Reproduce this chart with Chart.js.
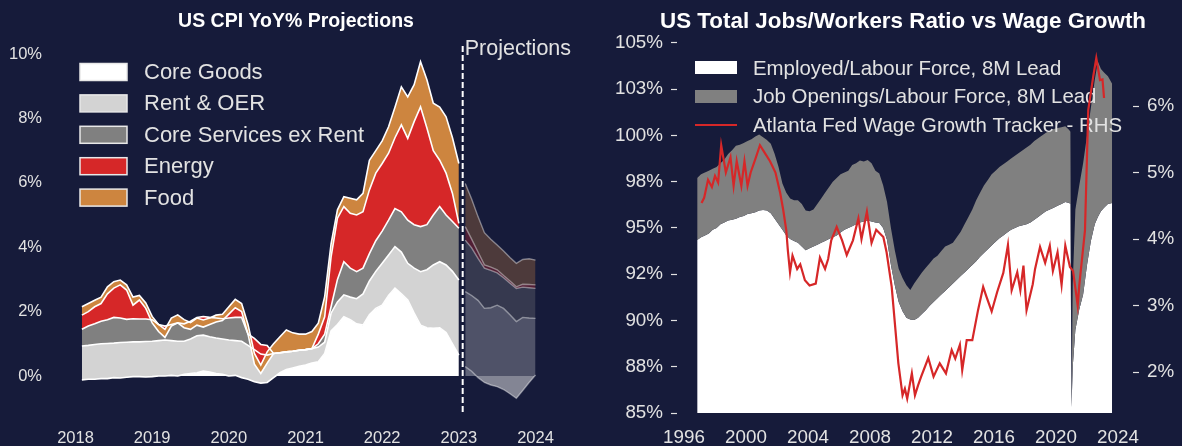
<!DOCTYPE html>
<html>
<head>
<meta charset="utf-8">
<script src="https://cdn.jsdelivr.net/npm/chart.js@4.4.0/dist/chart.umd.min.js"></script>
<style>
  html, body { margin: 0; padding: 0; background: #161b3a; }
  #wrap { position: relative; width: 1182px; height: 446px; background: #161b3a; overflow: hidden; }
  #cpi { position: absolute; left: 0; top: 0; }
  #jobs { position: absolute; left: 590px; top: 0; }
</style>
</head>
<body>
<div id="wrap">
  <canvas id="cpi" width="590" height="446"></canvas>
  <canvas id="jobs" width="592" height="446"></canvas>
</div>
<script>
const FONT = '"Liberation Sans", Arial, sans-serif';
const TXT = "#e2e2e2";

// ---- left chart: CPI YoY contributions, monthly Feb 2018 .. Jan 2023 ----
const cpiLayerNames = ["Core Goods", "Rent & OER", "Core Services ex Rent", "Energy", "Food"];
const cpiColors = ["#ffffff", "#d3d3d3", "#808080", "#d62728", "#cd853f"];
const projColors = ["rgba(255,255,255,0.32)", "rgba(211,211,211,0.3)", "rgba(128,128,128,0.3)",
  "rgba(214,39,40,0.3)", "rgba(205,133,63,0.3)"];

const coreGoods = [-0.12, -0.10, -0.10, -0.08, -0.08, -0.05, -0.06, -0.04, -0.02, -0.02,
  -0.03, -0.02, 0.00, 0.00, 0.02, 0.00, 0.05, 0.08, 0.10, 0.15,
  0.12, 0.08, 0.05, 0.00, 0.02, -0.05, -0.10, -0.18, -0.22, -0.20,
  -0.05, 0.10, 0.20, 0.25, 0.30, 0.34, 0.40, 0.44, 0.70, 1.40,
  1.60, 1.84, 1.75, 1.62, 1.58, 1.90, 2.10, 2.20, 2.50, 2.73,
  2.55, 2.36, 1.95, 1.58, 1.50, 1.48, 1.50, 1.35, 1.00, 0.65];
const rentOER = [1.05, 1.05, 1.08, 1.08, 1.09, 1.07, 1.10, 1.09, 1.08, 1.08,
  1.10, 1.10, 1.10, 1.12, 1.08, 1.08, 1.03, 1.07, 1.15, 1.12,
  1.10, 1.10, 1.10, 1.12, 1.08, 1.13, 1.05, 1.00, 0.90, 0.85,
  0.75, 0.62, 0.55, 0.52, 0.50, 0.48, 0.45, 0.46, 0.35, 0.55,
  0.70, 0.68, 0.70, 0.78, 0.97, 1.05, 1.15, 1.30, 1.26, 1.29,
  1.30, 1.14, 1.40, 1.66, 1.80, 1.97, 2.05, 2.10, 2.25, 2.33];
const coreServices = [0.52, 0.60, 0.64, 0.70, 0.74, 0.80, 0.76, 0.71, 0.72, 0.71,
  0.70, 0.67, 0.50, 0.43, 0.50, 0.57, 0.54, 0.55, 0.57, 0.58,
  0.60, 0.62, 0.63, 0.68, 0.72, 0.74, 0.35, 0.35, 0.30, 0.30,
  0.00, 0.00, 0.00, 0.00, 0.00, 0.00, 0.00, 0.10, 0.25, 0.20,
  0.70, 1.03, 0.90, 0.84, 0.80, 0.85, 0.95, 1.00, 1.08, 1.18,
  1.25, 1.34, 1.35, 1.40, 1.40, 1.55, 1.71, 1.55, 1.55, 1.61];
const energy = [0.44, 0.45, 0.53, 0.55, 0.80, 0.91, 1.03, 0.91, 0.42, 0.59,
  0.33, -0.10, -0.22, -0.35, -0.05, 0.00, -0.12, -0.25, -0.24, -0.33,
  -0.22, -0.12, -0.06, 0.12, 0.30, 0.18, 0.00, -0.80, -0.90, -0.55,
  0.00, 0.00, 0.00, 0.00, 0.00, 0.00, 0.00, 0.30, 0.54, 1.55,
  1.90, 1.71, 1.70, 1.76, 1.75, 1.98, 2.10, 2.10, 2.08, 2.20,
  2.70, 2.54, 3.20, 3.72, 3.00, 2.00, 1.44, 1.30, 0.87, 0.15];
const food = [0.26, 0.25, 0.20, 0.20, 0.22, 0.20, 0.15, 0.16, 0.25, 0.14,
  0.17, 0.20, 0.22, 0.25, 0.25, 0.25, 0.25, 0.21, 0.22, 0.22,
  0.20, 0.21, 0.20, 0.23, 0.26, 0.25, 0.30, 0.33, 0.26, 0.35,
  0.30, 0.50, 0.68, 0.57, 0.50, 0.48, 0.53, 0.34, 0.62, 0.40,
  0.26, 0.31, 0.47, 0.47, 0.57, 0.92, 0.70, 0.70, 0.82, 0.95,
  1.18, 1.29, 1.15, 1.40, 1.50, 1.47, 1.65, 1.75, 1.73, 1.86];

// projections, monthly Feb 2023 .. Jan 2024
const projCoreGoods = [0.29, 0.15, -0.05, -0.20, -0.28, -0.33, -0.42, -0.55, -0.69, -0.45, -0.20, 0.03];
const projRentOER = [2.33, 2.35, 2.40, 2.30, 2.40, 2.53, 2.52, 2.45, 2.38, 2.27, 2.00, 1.76];
const projCoreServices = [1.60, 1.48, 1.30, 1.25, 1.16, 1.00, 0.95, 0.98, 1.03, 0.94, 0.94, 0.93];
const projEnergy = [0.42, 0.27, 0.20, 0.10, 0.10, 0.10, 0.07, 0.07, 0.05, 0.09, 0.10, 0.11];
const projFood = [1.34, 1.25, 1.10, 1.00, 0.87, 0.77, 0.76, 0.73, 0.73, 0.77, 0.80, 0.77];

const cpiYTicks = [0, 2, 4, 6, 8, 10];
const cpiXTicks = [2018, 2019, 2020, 2021, 2022, 2023, 2024];
const projLineAt = 2023.05;

// ---- right chart: jobs / labour force and wage growth ----
const jobsDates = [1996.85, 1997.1, 1997.35, 1997.6, 1997.85,
  1998.1, 1998.35, 1998.6, 1998.85, 1999.1, 1999.35, 1999.6, 1999.85,
  2000.1, 2000.35, 2000.6, 2000.85, 2001.1, 2001.35, 2001.6, 2001.85,
  2002.1, 2002.35, 2002.6, 2002.85, 2003.1, 2003.35, 2003.6, 2003.85,
  2004.1, 2004.35, 2004.6, 2004.85, 2005.1, 2005.35, 2005.6, 2005.85,
  2006.1, 2006.35, 2006.6, 2006.85, 2007.1, 2007.35, 2007.6, 2007.85,
  2008.1, 2008.35, 2008.6, 2008.85, 2009.1, 2009.35, 2009.6, 2009.85,
  2010.1, 2010.35, 2010.6, 2010.85, 2011.1, 2011.35, 2011.6, 2011.85,
  2012.1, 2012.35, 2012.6, 2012.85, 2013.1, 2013.35, 2013.6, 2013.85,
  2014.1, 2014.35, 2014.6, 2014.85, 2015.1, 2015.35, 2015.6, 2015.85,
  2016.1, 2016.35, 2016.6, 2016.85, 2017.1, 2017.35, 2017.6, 2017.85,
  2018.1, 2018.35, 2018.6, 2018.85, 2019.1, 2019.35, 2019.6, 2019.85,
  2020.1, 2020.35, 2020.6, 2020.85, 2020.93,
  2021.0, 2021.08, 2021.25, 2021.5, 2021.75,
  2022.0, 2022.25, 2022.5, 2022.7, 2022.9,
  2023.1, 2023.35, 2023.62];
const employedLF = [94.35, 94.5, 94.6, 94.7, 94.9,
  95.0, 95.2, 95.3, 95.4, 95.45, 95.5, 95.6, 95.65,
  95.75, 95.8, 95.85, 95.95, 95.97, 95.95, 95.8, 95.5,
  95.2, 94.9, 94.6, 94.4, 94.3, 94.2, 94.0, 93.8,
  93.9, 94.0, 94.1, 94.2, 94.3, 94.4, 94.5, 94.6,
  94.75, 94.9, 95.0, 95.1, 95.2, 95.3, 95.35, 95.4,
  95.35, 95.3, 95.27, 95.0, 94.35, 93.0, 91.9, 91.0,
  90.5, 90.15, 90.05, 90.03, 90.15, 90.35, 90.55, 90.8,
  91.0, 91.2, 91.4, 91.6, 91.8, 92.0, 92.2, 92.4,
  92.6, 92.8, 93.0, 93.2, 93.45, 93.65, 93.85, 94.05,
  94.25, 94.45, 94.6, 94.75, 94.9, 95.0, 95.1, 95.15,
  95.2, 95.3, 95.45, 95.6, 95.75, 95.9, 96.0, 96.1,
  96.2, 96.3, 96.4, 96.35, 96.3,
  85.3, 87.5, 89.5, 90.6, 91.4,
  93.0, 94.3, 95.2, 95.6, 95.9,
  96.1, 96.3, 96.35];
const openingsLF = [3.35, 3.4, 3.4, 3.4, 3.3,
  3.3, 3.3, 3.4, 3.6, 3.75, 3.95, 3.9, 3.95,
  3.95, 4.0, 4.1, 4.1, 3.93, 3.8, 3.75, 3.5,
  3.1, 2.5, 2.3, 2.2, 2.2, 2.3, 2.3, 2.15,
  2.0, 2.0, 2.2, 2.4, 2.6, 2.8, 3.0, 3.1,
  3.15, 3.1, 3.1, 3.3, 3.3, 3.35, 3.25, 3.28,
  3.15, 2.8, 2.68, 2.3, 2.05, 2.0, 1.9, 1.8,
  1.8, 1.75, 1.6, 1.97, 2.15, 2.25, 2.3, 2.3,
  2.35, 2.3, 2.35, 2.4, 2.3, 2.2, 2.3, 2.4,
  2.6, 2.8, 3.0, 3.3, 3.45, 3.65, 3.75, 3.85,
  3.85, 3.85, 3.85, 3.85, 3.85, 3.9, 3.95, 4.05,
  4.15, 4.2, 4.25, 4.25, 4.25, 4.25, 4.25, 4.25,
  4.2, 4.15, 4.1, 3.95, 3.9,
  0.3, 4.5, 6.5, 6.7, 7.1,
  7.0, 7.2, 7.8, 8.4, 7.7,
  7.3, 6.9, 6.45];

const wageDates = [1997.13, 1997.3, 1997.55, 1997.8, 1998.0, 1998.2, 1998.4, 1998.7, 1999.0, 1999.2,
  1999.4, 1999.7, 1999.9, 2000.1, 2000.3, 2000.6, 2000.9, 2001.2, 2001.55, 2001.9,
  2002.2, 2002.4, 2002.6, 2002.7, 2002.84, 2003.0, 2003.3, 2003.5, 2003.8, 2004.1,
  2004.5, 2004.77, 2005.1, 2005.3, 2005.5, 2005.85, 2006.2, 2006.5, 2006.9, 2007.25,
  2007.45, 2007.8, 2008.1, 2008.4, 2008.86, 2009.07, 2009.4, 2009.83, 2010.1, 2010.25,
  2010.4, 2010.7, 2010.9, 2011.1, 2011.3, 2011.76, 2012.1, 2012.5, 2012.9, 2013.27,
  2013.5, 2013.8, 2013.95, 2014.24, 2014.6, 2014.97, 2015.3, 2015.5, 2015.85, 2016.2,
  2016.6, 2016.9, 2017.14, 2017.5, 2017.7, 2017.9, 2018.1, 2018.5, 2018.65, 2018.97,
  2019.3, 2019.6, 2019.8, 2020.1, 2020.36, 2020.6, 2020.9, 2021.1, 2021.4, 2021.5,
  2021.87, 2022.08, 2022.4, 2022.6, 2022.84, 2023.0, 2023.1];
const wageGrowth = [4.54, 4.62, 4.89, 4.78, 4.95, 4.85, 5.41, 5.0, 5.23, 4.8,
  5.17, 4.8, 5.17, 4.8, 5.0, 5.2, 5.41, 5.3, 5.17, 5.0,
  4.7, 4.44, 4.13, 3.83, 3.5, 3.75, 3.55, 3.62, 3.38, 3.3,
  3.33, 3.72, 3.55, 3.7, 3.98, 4.18, 3.98, 3.76, 3.98, 4.31,
  4.0, 4.41, 3.94, 4.14, 4.03, 3.8, 3.28, 2.13, 1.65, 1.75,
  1.6, 1.98, 1.65, 1.8, 1.93, 2.21, 1.93, 2.13, 1.98, 2.33,
  2.2, 2.41, 2.03, 2.48, 2.48, 2.93, 3.28, 3.14, 2.91, 3.2,
  3.49, 3.91, 3.23, 3.5, 3.23, 3.6, 2.93, 3.32, 3.55, 3.88,
  3.64, 3.9, 3.52, 3.8, 3.31, 3.9, 3.58, 3.52, 3.0, 3.3,
  4.13, 5.94, 6.44, 6.72, 6.39, 6.4, 6.12];

const jobsXTicks = [1996, 2000, 2004, 2008, 2012, 2016, 2020, 2024];
const jobsLeftTicks = [85, 87.5, 90, 92.5, 95, 97.5, 100, 102.5, 105];
const jobsLeftLabels = ["85%", "88%", "90%", "92%", "95%", "98%", "100%", "103%", "105%"];
const jobsRightTicks = [2, 3, 4, 5, 6];
const jobsLegend = ["Employed/Labour Force, 8M Lead", "Job Openings/Labour Force, 8M Lead",
  "Atlanta Fed Wage Growth Tracker - RHS"];

// running totals for the stacked areas
function stackUp(layers) {
  let run = layers[0].map(() => 0);
  return layers.map((layer) => {
    run = run.map((v, i) => v + layer[i]);
    return run;
  });
}

function points(xs, ys) {
  return xs.map((x, i) => ({ x: x, y: ys[i] }));
}

function fixedTicks(list) {
  return (scale) => {
    scale.ticks = list.map((v) => ({ value: v }));
  };
}

const cpiDates = coreGoods.map((_, i) => 2018 + (i + 1) / 12);
const projDates = projCoreGoods.map((_, i) => 2023 + (i + 1) / 12);
const cpiStack = stackUp([coreGoods, rentOER, coreServices, energy, food]);
const projStack = stackUp([projCoreGoods, projRentOER, projCoreServices, projEnergy, projFood]);

const cpiSets = [];
cpiStack.forEach((cum, i) => {
  cpiSets.push({
    data: points(cpiDates, cum),
    backgroundColor: cpiColors[i],
    borderColor: "#ffffff",
    borderWidth: 1.6,
    fill: i === 0 ? "origin" : "-1",
    order: 30 - cpiSets.length,
  });
});
projStack.forEach((cum, i) => {
  cpiSets.push({
    data: points(projDates, cum),
    backgroundColor: projColors[i],
    borderColor: "rgba(255,255,255,0.42)",
    borderWidth: 1.4,
    fill: i === 0 ? "origin" : "-1",
    order: 30 - cpiSets.length,
  });
});
cpiSets.push({
  data: [{ x: projLineAt, y: -1.12 }, { x: projLineAt, y: 10.28 }],
  borderColor: "#ffffff",
  borderWidth: 2,
  borderDash: [6, 3],
  fill: false,
  order: 0,
});

const cpiDecor = {
  id: "cpiDecor",
  afterDraw(chart) {
    const ctx = chart.ctx;
    ctx.save();
    ctx.fillStyle = "#ffffff";
    ctx.font = "bold 19.5px " + FONT;
    ctx.textAlign = "center";
    ctx.textBaseline = "alphabetic";
    ctx.fillText("US CPI YoY% Projections", 296, 27);

    ctx.font = "22px " + FONT;
    ctx.textAlign = "left";
    ctx.textBaseline = "middle";
    cpiLayerNames.forEach((name, i) => {
      const y = 72 + i * 31.4;
      ctx.fillStyle = cpiColors[i];
      ctx.fillRect(80, y - 8.5, 47, 17);
      ctx.strokeStyle = "#e8e8e8";
      ctx.lineWidth = 1.5;
      ctx.strokeRect(80, y - 8.5, 47, 17);
      ctx.fillStyle = TXT;
      ctx.fillText(name, 144, y + 1);
    });

    ctx.font = "21.5px " + FONT;
    ctx.textBaseline = "alphabetic";
    ctx.fillText("Projections", chart.scales.x.getPixelForValue(projLineAt) + 2, 55);
    ctx.restore();
  },
};

new Chart(document.getElementById("cpi"), {
  type: "line",
  data: { datasets: cpiSets },
  options: {
    responsive: false,
    animation: false,
    events: [],
    layout: { padding: { top: 40, right: 12, left: 0, bottom: 0 } },
    elements: { point: { radius: 0 }, line: { tension: 0 } },
    plugins: {
      legend: { display: false },
      tooltip: { enabled: false },
      filler: { drawTime: "beforeDatasetsDraw" },
    },
    scales: {
      x: {
        type: "linear",
        min: 2017.6935,
        max: 2024.554,
        grid: { display: false, drawTicks: false },
        border: { display: false },
        afterBuildTicks: fixedTicks(cpiXTicks),
        afterFit: (s) => { s.height = 32; },
        ticks: {
          color: TXT, padding: 15, autoSkip: false, maxRotation: 0,
          font: { family: FONT, size: 16.5 },
          callback: (v) => String(v),
        },
      },
      y: {
        min: -1.18,
        max: 10.435,
        grid: { display: false, drawTicks: false },
        border: { display: false },
        afterBuildTicks: fixedTicks(cpiYTicks),
        afterFit: (s) => { s.width = 52; },
        ticks: {
          color: TXT, padding: 10,
          font: { family: FONT, size: 16.5 },
          callback: (v) => v + "%",
        },
      },
    },
  },
  plugins: [cpiDecor],
});

// ---- right chart ----
const jobsTotal = employedLF.map((v, i) => v + openingsLF[i]);

const jobsDecor = {
  id: "jobsDecor",
  beforeDatasetsDraw(chart) {
    // legend sits above the areas but under the wage line
    const ctx = chart.ctx;
    ctx.save();
    ctx.fillStyle = "#ffffff";
    ctx.fillRect(105, 61, 42, 13);
    ctx.fillStyle = "#808080";
    ctx.fillRect(105, 90, 42, 13);
    ctx.strokeStyle = "#d62728";
    ctx.lineWidth = 2;
    ctx.beginPath();
    ctx.moveTo(105, 125);
    ctx.lineTo(147, 125);
    ctx.stroke();
    ctx.fillStyle = TXT;
    ctx.font = "20.4px " + FONT;
    ctx.textAlign = "left";
    ctx.textBaseline = "middle";
    jobsLegend.forEach((t, i) => ctx.fillText(t, 163, 69 + i * 28.7));
    ctx.restore();
  },
  afterDraw(chart) {
    const ctx = chart.ctx;
    ctx.save();
    ctx.fillStyle = "#ffffff";
    ctx.font = "bold 22.4px " + FONT;
    ctx.textAlign = "center";
    ctx.textBaseline = "alphabetic";
    ctx.fillText("US Total Jobs/Workers Ratio vs Wage Growth", 313, 28);
    ctx.restore();
  },
};

const tickAxis = {
  grid: { display: true, drawOnChartArea: false, drawTicks: true, tickLength: 6, tickColor: TXT, tickWidth: 1.2 },
  border: { display: false },
};

new Chart(document.getElementById("jobs"), {
  type: "line",
  data: {
    datasets: [
      {
        data: points(jobsDates, employedLF),
        backgroundColor: "#ffffff",
        borderWidth: 0,
        fill: "start",
        yAxisID: "y",
        order: 2,
      },
      {
        data: points(jobsDates, jobsTotal),
        backgroundColor: "#808080",
        borderWidth: 0,
        fill: "-1",
        yAxisID: "y",
        order: 1,
      },
      {
        data: points(wageDates, wageGrowth),
        borderColor: "#d62728",
        borderWidth: 2.2,
        fill: false,
        yAxisID: "y2",
        order: 0,
      },
    ],
  },
  options: {
    responsive: false,
    animation: false,
    events: [],
    layout: { padding: { top: 40, right: 0, left: 0, bottom: 0 } },
    elements: { point: { radius: 0 }, line: { tension: 0 } },
    plugins: {
      legend: { display: false },
      tooltip: { enabled: false },
      filler: { drawTime: "beforeDatasetsDraw" },
    },
    scales: {
      x: {
        type: "linear",
        min: 1995.548,
        max: 2024.968,
        grid: { display: false, drawTicks: false },
        border: { display: false },
        afterBuildTicks: fixedTicks(jobsXTicks),
        afterFit: (s) => { s.height = 33; },
        ticks: {
          color: TXT, padding: 14, autoSkip: false, maxRotation: 0,
          font: { family: FONT, size: 18.8 },
          callback: (v) => String(v),
        },
      },
      y: {
        ...tickAxis,
        position: "left",
        min: 85,
        max: 105.162,
        afterBuildTicks: fixedTicks(jobsLeftTicks),
        afterFit: (s) => { s.width = 87; },
        ticks: {
          color: TXT, padding: 8, autoSkip: false,
          font: { family: FONT, size: 18.8 },
          callback: (v, i) => jobsLeftLabels[i],
        },
      },
      y2: {
        ...tickAxis,
        position: "right",
        min: 1.3835,
        max: 6.9925,
        afterBuildTicks: fixedTicks(jobsRightTicks),
        afterFit: (s) => { s.width = 49; },
        ticks: {
          color: TXT, padding: 8, autoSkip: false,
          font: { family: FONT, size: 18.8 },
          callback: (v) => v + "%",
        },
      },
    },
  },
  plugins: [jobsDecor],
});
</script>
</body>
</html>
